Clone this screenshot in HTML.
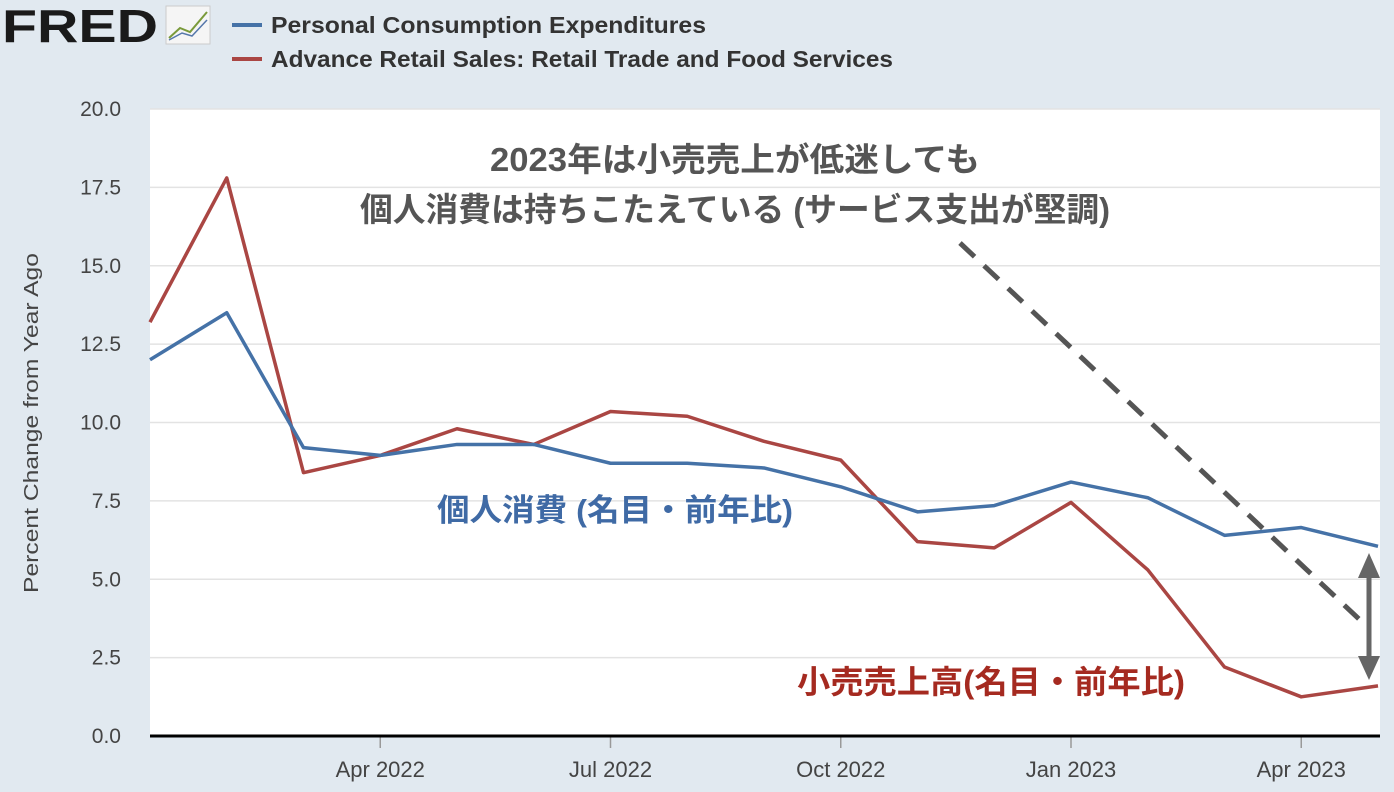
<!DOCTYPE html>
<html><head><meta charset="utf-8"><style>
body{margin:0;background:#e1e9f0;width:1394px;height:792px;overflow:hidden;font-family:"Liberation Sans","Noto Sans CJK JP",sans-serif}
</style></head><body>
<svg id="chart" width="1394" height="792" style="position:absolute;left:0;top:0">
<text x="2" y="42" font-size="46" font-weight="bold" fill="#1a1a1a" font-family="Liberation Sans,sans-serif" textLength="156" lengthAdjust="spacingAndGlyphs">FRED</text>
<g><rect x="166" y="6" width="44" height="38" fill="#f5f5f5" stroke="#ccc"/><polyline points="169,38 180,28 190,32 207,12" fill="none" stroke="#7a9a3a" stroke-width="2"/><polyline points="169,40 182,33 192,36 207,20" fill="none" stroke="#5577aa" stroke-width="1.5"/></g>
<line x1="232" y1="25" x2="262" y2="25" stroke="#4572a7" stroke-width="4"/>
<text x="271" y="33" font-size="23" font-weight="bold" fill="#333" textLength="435" lengthAdjust="spacingAndGlyphs">Personal Consumption Expenditures</text>
<line x1="232" y1="59" x2="262" y2="59" stroke="#aa4643" stroke-width="4"/>
<text x="271" y="67" font-size="23" font-weight="bold" fill="#333" textLength="622" lengthAdjust="spacingAndGlyphs">Advance Retail Sales: Retail Trade and Food Services</text>
<rect x="150" y="109" width="1230" height="627" fill="#fff"/>
<g id="grid"></g><g id="yt"></g><g id="xt"></g>
<line x1="150" y1="736" x2="1380" y2="736" stroke="#000" stroke-width="3"/>
<text transform="translate(38,423) rotate(-90)" text-anchor="middle" font-size="20" fill="#444" textLength="340" lengthAdjust="spacingAndGlyphs">Percent Change from Year Ago</text>
<g id="series"></g>
<text x="735" y="171" text-anchor="middle" font-size="33" font-weight="bold" fill="#555" textLength="490" lengthAdjust="spacingAndGlyphs">2023年は小売売上が低迷しても</text>
<text x="735" y="221" text-anchor="middle" font-size="33" font-weight="bold" fill="#555" textLength="750" lengthAdjust="spacingAndGlyphs">個人消費は持ちこたえている (サービス支出が堅調)</text>
<text x="615" y="521" text-anchor="middle" font-size="31" font-weight="bold" fill="#3f6aa5" textLength="356" lengthAdjust="spacingAndGlyphs">個人消費 (名目・前年比)</text>
<text x="991" y="693" text-anchor="middle" font-size="32" font-weight="bold" fill="#a52a20" textLength="388" lengthAdjust="spacingAndGlyphs">小売売上高(名目・前年比)</text>
<line x1="960" y1="243" x2="1360" y2="620" stroke="#555" stroke-width="5" stroke-dasharray="20,13"/>
<g><line x1="1369" y1="572" x2="1369" y2="662" stroke="#666" stroke-width="5"/><polygon points="1358,578 1380,578 1369,553" fill="#666"/><polygon points="1358,656 1380,656 1369,680" fill="#666"/></g>
</svg>
<script>
const yTicks=["0.0","2.5","5.0","7.5","10.0","12.5","15.0","17.5","20.0"];
const xTickLabels=["Apr 2022","Jul 2022","Oct 2022","Jan 2023","Apr 2023"];
const xTickIndex=[3,6,9,12,15];
const pce=[12.0,13.5,9.2,8.95,9.3,9.3,8.7,8.7,8.55,7.95,7.15,7.35,8.1,7.6,6.4,6.65,6.05];
const retail=[13.2,17.8,8.4,8.95,9.8,9.3,10.35,10.2,9.4,8.8,6.2,6.0,7.45,5.3,2.2,1.25,1.6];
const NS="http://www.w3.org/2000/svg";
const x=i=>150+i*(1228/16), y=v=>736-v*(627/20);
function mk(t,a,p){const e=document.createElementNS(NS,t);for(const k in a)e.setAttribute(k,a[k]);p.appendChild(e);return e;}
const g=document.getElementById('grid'),yt=document.getElementById('yt'),xt=document.getElementById('xt'),s=document.getElementById('series');
yTicks.forEach(t=>{const v=parseFloat(t);
 const l=mk('line',{x1:150,x2:1380,y1:y(v),y2:y(v),stroke:'#e3e3e3','stroke-width':1.5},g);
 
 
 const tx=mk('text',{x:121,y:y(v)+7,'text-anchor':'end','font-size':21,fill:'#444'},yt);tx.textContent=t;
 
 });
xTickIndex.forEach((i,k)=>{
 const l=mk('line',{x1:x(i),x2:x(i),y1:736,y2:748,stroke:'#999','stroke-width':1.5},xt);
 
 
 const tx=mk('text',{x:x(i),y:777,'text-anchor':'middle','font-size':22,fill:'#444'},xt);tx.textContent=xTickLabels[k];
 
 });
[[retail,'#aa4643','retail-line'],[pce,'#4572a7','pce-line']].forEach(([d,c,n])=>{
 const p=mk('polyline',{points:d.map((v,i)=>x(i)+','+y(v)).join(' '),fill:'none',stroke:c,'stroke-width':3.5,'stroke-linejoin':'round'},s);
 
 });
</script>
</body></html>
